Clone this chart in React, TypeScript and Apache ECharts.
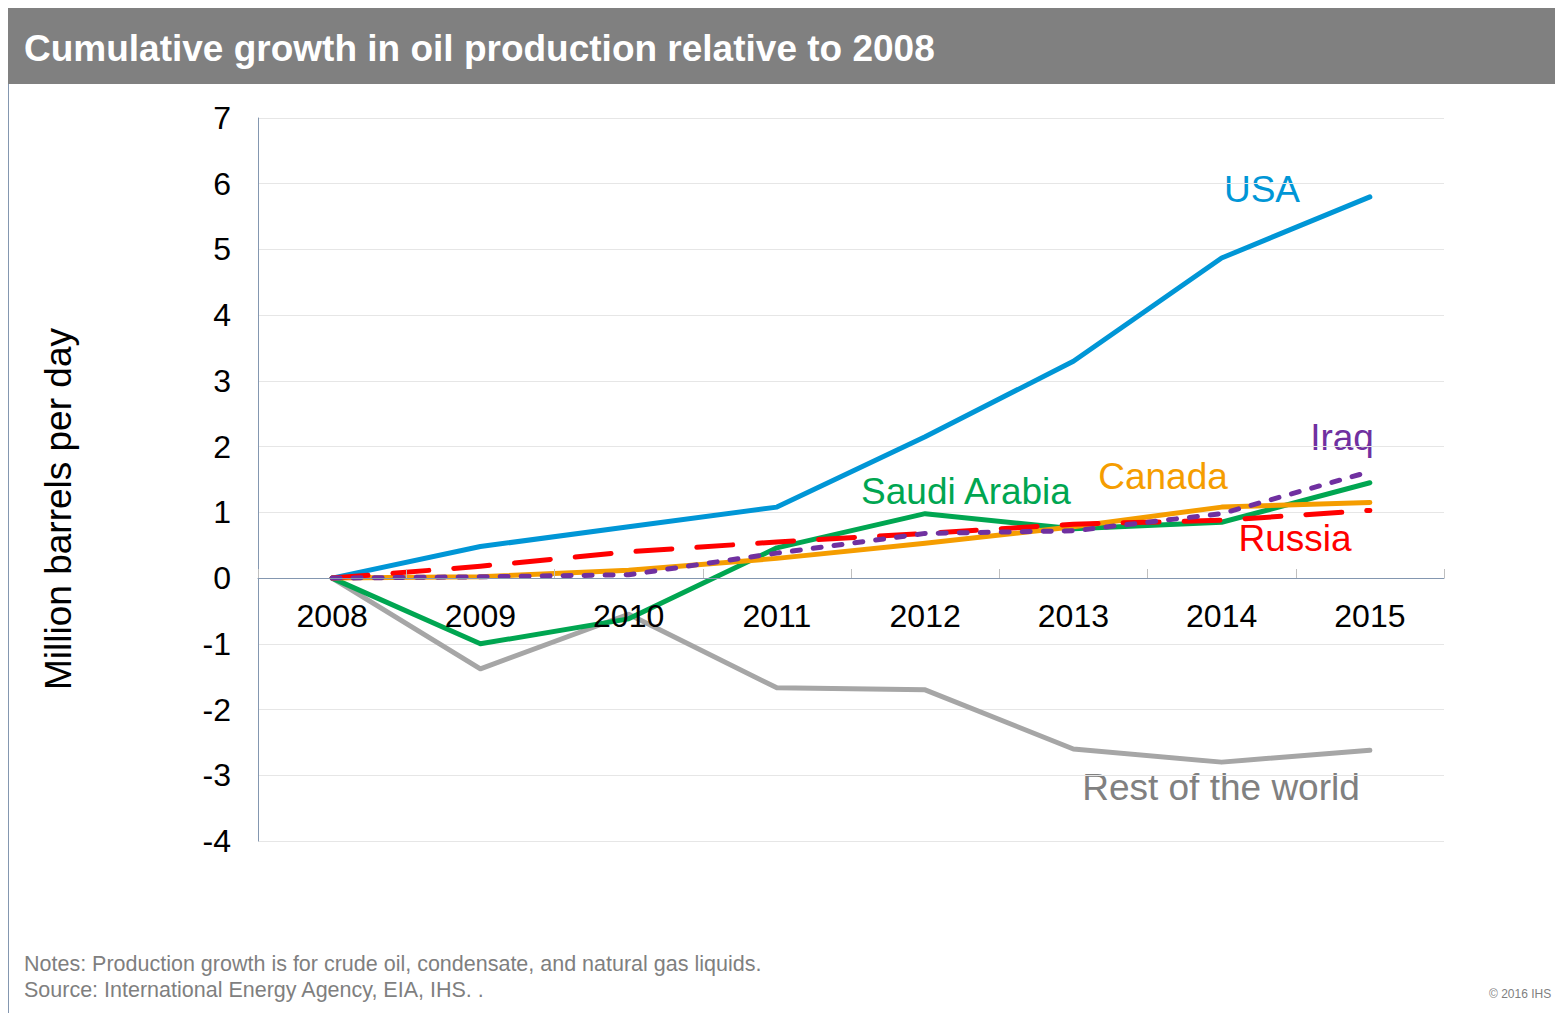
import React, { useEffect, useRef } from "react";
import * as echarts from "echarts";

const years = ["2008", "2009", "2010", "2011", "2012", "2013", "2014", "2015"];
const usa = [0, 0.48, 0.78, 1.08, 2.15, 3.3, 4.87, 5.8];
const saudi = [0, -1.0, -0.62, 0.46, 0.98, 0.75, 0.85, 1.45];
const rest = [0, -1.38, -0.55, -1.67, -1.7, -2.6, -2.8, -2.62];
const canada = [0, 0.02, 0.12, 0.3, 0.53, 0.78, 1.08, 1.15];
const russia = [0, 0.18, 0.4, 0.55, 0.68, 0.82, 0.88, 1.03];
const iraq = [0, 0.02, 0.05, 0.38, 0.68, 0.72, 0.98, 1.62];

const FONT = "'Liberation Sans', Arial, Helvetica, sans-serif";

export default function App() {
  const ref = useRef<HTMLDivElement>(null);
  useEffect(() => {
    if (!ref.current) return;
    const chart = echarts.init(ref.current, null, { renderer: "svg" });
    const line = (name: string, data: number[], color: string, type: any = "solid", z = 2) => ({
      name,
      type: "line",
      data,
      symbol: "none",
      z,
      lineStyle: { color, width: 5, type, cap: "round", join: "round" },
    });
    chart.setOption({
      animation: false,
      backgroundColor: "#ffffff",
      textStyle: { fontFamily: FONT },
      grid: { left: 258, right: 111, top: 118, bottom: 172, containLabel: false },
      xAxis: {
        type: "category",
        data: years,
        boundaryGap: true,
        offset: -263,
        z: 10,
        axisLine: { onZero: false, lineStyle: { color: "#8497b0", width: 1 } },
        axisTick: { show: true, inside: true, length: 9, lineStyle: { color: "#bfbfbf" } },
        axisLabel: { color: "#000", fontSize: 32, margin: 22, fontFamily: FONT },
        splitLine: { show: false },
      },
      yAxis: {
        type: "value",
        min: -4,
        max: 7,
        interval: 1,
        axisLine: { show: true, lineStyle: { color: "#8497b0", width: 1 } },
        axisTick: { show: false },
        axisLabel: { color: "#000", fontSize: 32, margin: 27, fontFamily: FONT },
        splitLine: { show: true, lineStyle: { color: "#e6e6e6", width: 1 } },
      },
      series: [
        line("Rest of the world", rest, "#a6a6a6", "solid", 2),
        line("Saudi Arabia", saudi, "#00a651", "solid", 3),
        line("USA", usa, "#0096d6", "solid", 3),
        line("Canada", canada, "#f59d00", "solid", 4),
        line("Russia", russia, "#ff0000", [36, 25], 5),
        line("Iraq", iraq, "#7030a0", [8, 13], 6),
      ],
      graphic: [
        { type: "rect", shape: { x: 8, y: 8, width: 1547, height: 76 }, style: { fill: "#808080" }, silent: true },
        { type: "line", shape: { x1: 8.5, y1: 84, x2: 8.5, y2: 1013 }, style: { stroke: "#8497b0", lineWidth: 1 } },
        {
          type: "text", x: 24, y: 48,
          style: { text: "Cumulative growth in oil production relative to 2008", fill: "#fff", font: `bold 37px ${FONT}`, textVerticalAlign: "middle" },
        },
        {
          type: "text", x: 58, y: 509, rotation: Math.PI / 2,
          style: { text: "Million barrels per day", fill: "#000", font: `37px ${FONT}`, textAlign: "center", textVerticalAlign: "middle" },
        },
        { type: "text", x: 1262, y: 189, style: { text: "USA", fill: "#0096d6", font: `37px ${FONT}`, textAlign: "center", textVerticalAlign: "middle" } },
        { type: "text", x: 1342, y: 437, style: { text: "Iraq", fill: "#7030a0", font: `37px ${FONT}`, textAlign: "center", textVerticalAlign: "middle" } },
        { type: "text", x: 1163, y: 476, style: { text: "Canada", fill: "#f59d00", font: `37px ${FONT}`, textAlign: "center", textVerticalAlign: "middle" } },
        { type: "text", x: 966, y: 491, style: { text: "Saudi Arabia", fill: "#00a651", font: `37px ${FONT}`, textAlign: "center", textVerticalAlign: "middle" } },
        { type: "text", x: 1295, y: 538, style: { text: "Russia", fill: "#ff0000", font: `37px ${FONT}`, textAlign: "center", textVerticalAlign: "middle" } },
        { type: "text", x: 1221, y: 787, style: { text: "Rest of the world", fill: "#808080", font: `37px ${FONT}`, textAlign: "center", textVerticalAlign: "middle" } },
        { type: "text", x: 24, y: 964, style: { text: "Notes: Production growth is for crude oil, condensate, and natural gas liquids.", fill: "#7f7f7f", font: `21.5px ${FONT}`, textVerticalAlign: "middle" } },
        { type: "text", x: 24, y: 990, style: { text: "Source: International Energy Agency, EIA, IHS. .", fill: "#7f7f7f", font: `21.5px ${FONT}`, textVerticalAlign: "middle" } },
        { type: "text", x: 1489, y: 994, style: { text: "© 2016 IHS", fill: "#7f7f7f", font: `12px ${FONT}`, textVerticalAlign: "middle" } },
      ],
    });
    return () => chart.dispose();
  }, []);
  return <div ref={ref} style={{ position: "fixed", left: 0, top: 0, width: 1555, height: 1013 }} />;
}
